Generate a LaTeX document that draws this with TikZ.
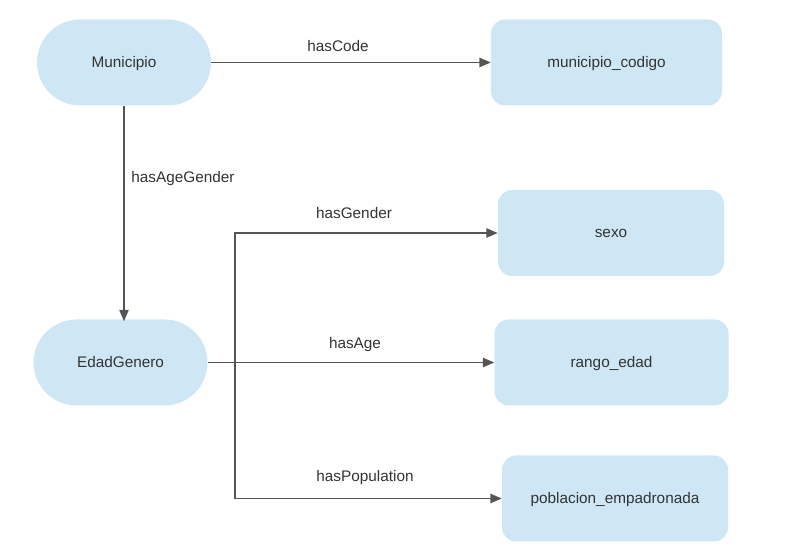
\documentclass[tikz,border=0pt]{standalone}
\usepackage{fontspec}
\setmainfont{Liberation Sans}
\usepackage{xcolor}
\usetikzlibrary{positioning, arrows.meta, shapes.misc}

\definecolor{boxblue}{HTML}{CFE7F5}
\definecolor{textgray}{HTML}{333333}
\definecolor{linegray}{HTML}{555555}

\tikzset{
  labelfont/.style={text=textgray, font=\fontsize{11.5pt}{13pt}\selectfont,
    text height=0.72em, text depth=0pt},
  classnode/.style={labelfont, fill=boxblue,
    minimum width=174*0.75pt, minimum height=86*0.75pt, rounded corners=43*0.75pt},
  valuenode/.style={labelfont, fill=boxblue,
    minimum width=228*0.75pt, minimum height=86*0.75pt, rounded corners=14*0.75pt},
  link/.style={draw=linegray, line width=1pt, -{Triangle[length=8.5pt,width=7pt]}},
  linklabel/.style={labelfont, inner sep=0pt}
}

\begin{document}
\begin{tikzpicture}[x=0.75pt, y=-0.75pt]
  \useasboundingbox (0,0) rectangle (793,559);

  % classes
  \node[classnode] (municipio) at (124,62.5) {Municipio};
  \node[classnode] (edad) at (120.5,362.5) {EdadGenero};

  % values
  \node[valuenode, minimum width=231*0.75pt] (codigo) at (606.5,62.5) {municipio\_codigo};
  \node[valuenode, minimum width=226*0.75pt] (sexo) at (611,233) {sexo};
  \node[valuenode, minimum width=234*0.75pt] (rango) at (611.5,362.5) {rango\_edad};
  \node[valuenode, minimum width=226*0.75pt] (poblacion) at (615,498.5) {poblacion\_empadronada};

  \coordinate (split) at (235,362.5);

  % relations
  \draw[link] (municipio.east) -- (codigo.west);
  \draw[link] (municipio.south) -- ([yshift=-1.5pt]edad.north -| municipio.south);
  \draw[link] (edad.east) -- (rango.west);
  \draw[link] (split) |- (sexo.west);
  \draw[link] (split) |- (poblacion.west);

  % labels
  \node[linklabel] (lcode) at (338,47) {hasCode};
  \node[linklabel] (lagegender) at (183,178) {hasAgeGender};
  \node[linklabel] (lgender) at (354,214) {hasGender};
  \node[linklabel] (lage) at (355,344) {hasAge};
  \node[linklabel] (lpop) at (365,477) {hasPopulation};
\end{tikzpicture}
\end{document}
